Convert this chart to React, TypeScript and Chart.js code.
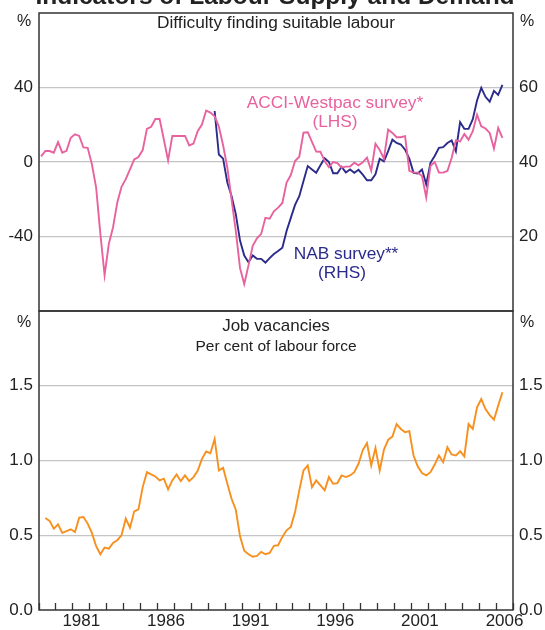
import React, { useEffect, useRef } from 'react';
import { Chart, registerables } from 'chart.js';

Chart.register(...registerables);

// ---------- DATA (quarterly, first value = 1979 Q1 unless noted) ----------
const START_YEAR = 1979;

// ACCI-Westpac survey, net balance (LHS, %), from 1979 Q1
const acciWestpac = [
  3.0, 5.9, 5.9, 5.0, 10.7, 5.0, 6.0, 13.0, 14.9, 14.0,
  7.8, 7.6, -1.2, -13.7, -38.6, -60.8, -43.9, -35.0, -21.7, -13.3,
  -9.2, -3.9, 1.4, 2.7, 6.4, 17.8, 18.9, 23.1, 23.1, 12.1,
  0.9, 14.0, 14.0, 14.0, 14.0, 8.9, 9.9, 16.5, 20.1, 27.6,
  26.5, 24.5, 19.0, 9.0, -3.0, -20.0, -37.0, -57.0, -65.5, -55.5,
  -45.0, -41.0, -38.6, -30.0, -30.4, -26.5, -24.5, -22.0, -11.0, -7.0,
  0.5, 2.8, 15.8, 16.0, 10.8, 5.6, 5.5, 0.5, -2.8, 0.0,
  -0.6, -3.0, -2.5, -2.4, -0.4, -1.8, -0.2, 2.4, -4.6, 9.8,
  6.4, 1.8, 17.4, 15.6, 13.3, 13.3, 13.9, -4.8, -5.7, -5.7,
  -7.5, -19.0, -2.0, 0.0, -5.7, -5.7, -4.8, 2.1, 11.6, 11.0,
  15.0, 12.0, 16.5, 25.4, 19.2, 18.0, 15.6, 7.2, 18.3, 12.9,
];

// NAB survey (RHS, %), starts at quarter index 41 (1989 Q2)
const NAB_START_QUARTER = 41;
const nabSurvey = [
  53.7, 42.0, 40.9, 34.5, 30.9, 26.0, 18.9, 14.9, 13.1, 14.9,
  14.0, 14.0, 13.0, 14.2, 15.3, 16.1, 17.0, 21.5, 25.0, 28.5,
  30.8, 34.9, 38.9, 38.0, 37.1, 39.1, 41.0, 40.0, 37.0, 37.0,
  38.7, 37.2, 38.0, 37.1, 37.9, 36.6, 35.1, 35.1, 36.7, 40.9,
  40.2, 42.9, 46.0, 45.1, 44.7, 43.3, 40.9, 37.1, 36.9, 38.0,
  34.0, 39.8, 41.6, 43.8, 44.0, 45.1, 45.8, 42.9, 50.7, 48.9,
  48.9, 51.5, 56.5, 59.9, 57.5, 56.2, 59.1, 58.0, 60.7,
];

// Job vacancies, per cent of labour force, starts at quarter index 1 (1979 Q2)
const VAC_START_QUARTER = 1;
const jobVacancies = [
  0.616, 0.596, 0.544, 0.573, 0.516, 0.527, 0.540, 0.522, 0.618, 0.622,
  0.578, 0.516, 0.427, 0.373, 0.418, 0.411, 0.449, 0.467, 0.500, 0.611,
  0.551, 0.660, 0.673, 0.822, 0.922, 0.907, 0.893, 0.867, 0.878, 0.807,
  0.867, 0.907, 0.862, 0.900, 0.862, 0.889, 0.931, 1.011, 1.060, 1.049,
  1.144, 0.933, 0.951, 0.844, 0.744, 0.671, 0.493, 0.396, 0.373, 0.356,
  0.362, 0.389, 0.373, 0.382, 0.429, 0.433, 0.489, 0.533, 0.556, 0.656,
  0.800, 0.933, 0.967, 0.822, 0.867, 0.833, 0.800, 0.889, 0.844, 0.849,
  0.900, 0.889, 0.900, 0.922, 0.978, 1.070, 1.116, 0.967, 1.084, 0.933,
  1.071, 1.138, 1.160, 1.244, 1.211, 1.189, 1.196, 1.033, 0.960, 0.916,
  0.900, 0.922, 0.973, 1.033, 0.989, 1.089, 1.040, 1.033, 1.062, 1.027,
  1.244, 1.211, 1.356, 1.411, 1.344, 1.304, 1.273, 1.367, 1.456,
];

const yearLabels = [1981, 1986, 1991, 1996, 2001, 2006];
const X_MIN = 1979;
const X_MAX = 2007;
const topLeftTicks = [-40, 0, 40];
const topRightTicks = [20, 40, 60];
const bottomTicks = [0, 0.5, 1.0, 1.5];

// ---------- STYLE ----------
const FONT = '"Liberation Sans", Arial, Helvetica, sans-serif';
const TEXT = '#222222';
const FRAME = '#333333';
const GRID = '#c4c4c4';
const PINK = '#E8629F';
const NAVY = '#2B2B8C';
const ORANGE = '#F7901E';
const CLEAR = 'rgba(0,0,0,0)';

const quarterX = (i: number) => START_YEAR + (i + 0.5) / 4;
const toPoints = (vals: number[], start: number) =>
  vals.map((v, k) => ({ x: quarterX(start + k), y: v }));

type TextItem = { text: string; x: number; y: number; font: string; color: string; align: CanvasTextAlign };

const textPlugin = (id: string, items: TextItem[]) => ({
  id,
  afterDraw(chart: any) {
    const ctx = chart.ctx as CanvasRenderingContext2D;
    ctx.save();
    for (const t of items) {
      ctx.font = t.font;
      ctx.fillStyle = t.color;
      ctx.textAlign = t.align;
      ctx.textBaseline = 'alphabetic';
      ctx.fillText(t.text, t.x, t.y);
    }
    ctx.restore();
  },
});

const framePlugin = {
  id: 'frame',
  afterDatasetsDraw(chart: any) {
    const { ctx, chartArea } = chart;
    ctx.save();
    ctx.strokeStyle = FRAME;
    ctx.lineWidth = 1.5;
    ctx.strokeRect(chartArea.left, chartArea.top, chartArea.right - chartArea.left, chartArea.bottom - chartArea.top);
    ctx.restore();
  },
};

const tickFont = { family: FONT, size: 17 };

// y axis whose labels sit 6px from the frame (transparent tick marks give the gap)
const yAxis = (position: 'left' | 'right', min: number, max: number, allTicks: number[], shown: number[], fmt: (v: number) => string, width: number, gridOn: boolean) => ({
  position,
  min,
  max,
  afterBuildTicks: (s: any) => { s.ticks = allTicks.map((v) => ({ value: v })); },
  ticks: {
    callback: (v: any) => (shown.includes(Number(v)) ? fmt(Number(v)) : ''),
    color: TEXT,
    font: tickFont,
    padding: 0,
  },
  grid: {
    drawOnChartArea: gridOn,
    color: (c: any) => (c.tick && c.tick.value > min && c.tick.value < max ? GRID : CLEAR),
    drawTicks: true,
    tickLength: 6,
    tickColor: CLEAR,
    lineWidth: 1.2,
  },
  border: { display: false },
  afterFit: (s: any) => { s.width = width; },
});

export default function App() {
  const topRef = useRef<HTMLCanvasElement>(null);
  const botRef = useRef<HTMLCanvasElement>(null);

  useEffect(() => {
    const topChart = new Chart(topRef.current as HTMLCanvasElement, {
      type: 'line',
      data: {
        datasets: [
          {
            label: 'ACCI-Westpac survey* (LHS)',
            data: toPoints(acciWestpac, 0),
            yAxisID: 'yL',
            borderColor: PINK,
            borderWidth: 1.9,
            pointRadius: 0,
            tension: 0,
          },
          {
            label: 'NAB survey** (RHS)',
            data: toPoints(nabSurvey, NAB_START_QUARTER),
            yAxisID: 'yR',
            borderColor: NAVY,
            borderWidth: 1.9,
            pointRadius: 0,
            tension: 0,
          },
        ],
      },
      options: {
        animation: false,
        responsive: false,
        devicePixelRatio: 1,
        layout: { autoPadding: false, padding: { top: 13, bottom: 11, left: 0, right: 0 } },
        plugins: { legend: { display: false }, tooltip: { enabled: false }, title: { display: false } },
        scales: {
          x: { type: 'linear', min: X_MIN, max: X_MAX, display: false },
          yL: yAxis('left', -80, 80, [-80, ...topLeftTicks, 80], topLeftTicks, (v) => String(v), 39, true),
          yR: yAxis('right', 0, 80, [0, ...topRightTicks, 80], topRightTicks, (v) => String(v), 32, false),
        },
      },
      plugins: [
        framePlugin,
        textPlugin('topTexts', [
          { text: 'Indicators of Labour Supply and Demand', x: 275, y: 4, font: `bold 24.5px ${FONT}`, color: TEXT, align: 'center' },
          { text: '%', x: 24, y: 26, font: `16px ${FONT}`, color: TEXT, align: 'center' },
          { text: '%', x: 527, y: 26, font: `16px ${FONT}`, color: TEXT, align: 'center' },
          { text: 'Difficulty finding suitable labour', x: 276, y: 28, font: `17.3px ${FONT}`, color: TEXT, align: 'center' },
          { text: 'ACCI-Westpac survey*', x: 335, y: 108, font: `17.3px ${FONT}`, color: PINK, align: 'center' },
          { text: '(LHS)', x: 335, y: 127, font: `17.3px ${FONT}`, color: PINK, align: 'center' },
          { text: 'NAB survey**', x: 346, y: 259, font: `17.3px ${FONT}`, color: NAVY, align: 'center' },
          { text: '(RHS)', x: 342, y: 278, font: `17.3px ${FONT}`, color: NAVY, align: 'center' },
        ]),
      ],
    } as any);

    const botChart = new Chart(botRef.current as HTMLCanvasElement, {
      type: 'line',
      data: {
        datasets: [
          {
            label: 'Job vacancies',
            data: toPoints(jobVacancies, VAC_START_QUARTER),
            yAxisID: 'yL',
            borderColor: ORANGE,
            borderWidth: 1.9,
            pointRadius: 0,
            tension: 0,
          },
        ],
      },
      options: {
        animation: false,
        responsive: false,
        devicePixelRatio: 1,
        layout: { autoPadding: false, padding: { top: 11, bottom: 0, left: 0, right: 0 } },
        plugins: { legend: { display: false }, tooltip: { enabled: false }, title: { display: false } },
        scales: {
          x: {
            type: 'linear',
            position: 'bottom',
            min: X_MIN,
            max: X_MAX,
            afterBuildTicks: (s: any) => {
              const t: any[] = [];
              for (let k = 0; k <= (X_MAX - X_MIN) * 2; k++) t.push({ value: X_MIN + k / 2 });
              s.ticks = t;
            },
            ticks: {
              autoSkip: false,
              maxRotation: 0,
              minRotation: 0,
              callback: (v: any) => {
                const n = Number(v);
                const yr = Math.floor(n);
                return n - yr === 0.5 && yearLabels.includes(yr) ? String(yr) : '';
              },
              color: TEXT,
              font: tickFont,
              padding: 8,
            },
            grid: {
              drawOnChartArea: false,
              drawTicks: true,
              tickLength: -7,
              tickColor: (c: any) => (Number.isInteger(c.tick?.value) ? FRAME : CLEAR),
              tickWidth: 1.3,
              color: CLEAR,
            },
            border: { display: false },
            afterFit: (s: any) => { s.height = 20; },
          },
          yL: yAxis('left', 0, 2, [...bottomTicks, 2], bottomTicks, (v) => v.toFixed(1), 39, true),
          yR: yAxis('right', 0, 2, [...bottomTicks, 2], bottomTicks, (v) => v.toFixed(1), 32, false),
        },
      },
      plugins: [
        framePlugin,
        textPlugin('botTexts', [
          { text: '%', x: 24, y: 27, font: `16px ${FONT}`, color: TEXT, align: 'center' },
          { text: '%', x: 527, y: 27, font: `16px ${FONT}`, color: TEXT, align: 'center' },
          { text: 'Job vacancies', x: 276, y: 31, font: `17px ${FONT}`, color: TEXT, align: 'center' },
          { text: 'Per cent of labour force', x: 276, y: 51, font: `15.5px ${FONT}`, color: TEXT, align: 'center' },
        ]),
      ],
    } as any);

    return () => {
      topChart.destroy();
      botChart.destroy();
    };
  }, []);

  return (
    <div style={{ position: 'absolute', left: 0, top: 0, width: 545, height: 630, background: '#ffffff', overflow: 'hidden' }}>
      <canvas ref={topRef} width={545} height={322} style={{ position: 'absolute', left: 0, top: 0, width: 545, height: 322 }} />
      <canvas ref={botRef} width={545} height={330} style={{ position: 'absolute', left: 0, top: 300, width: 545, height: 330 }} />
    </div>
  );
}
